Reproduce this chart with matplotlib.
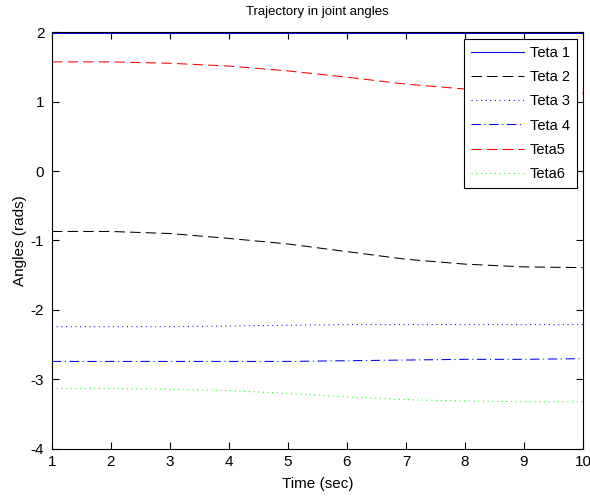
import matplotlib.pyplot as plt
import numpy as np

plt.rcParams['font.family'] = ['Liberation Sans', 'DejaVu Sans']
plt.rcParams['axes.unicode_minus'] = False

# joint angles sampled once per second
time = np.arange(1, 11)
teta1 = [1.98, 1.98, 1.98, 1.98, 1.98, 1.98, 1.98, 1.98, 1.98, 1.98]
teta2 = [-0.87, -0.87, -0.90, -0.97, -1.05, -1.16, -1.27, -1.34, -1.38, -1.39]
teta3 = [-2.24, -2.24, -2.24, -2.23, -2.22, -2.21, -2.21, -2.21, -2.21, -2.21]
teta4 = [-2.74, -2.74, -2.74, -2.74, -2.74, -2.73, -2.72, -2.71, -2.71, -2.70]
teta5 = [1.57, 1.57, 1.55, 1.51, 1.44, 1.35, 1.25, 1.18, 1.14, 1.12]
teta6 = [-3.13, -3.13, -3.14, -3.16, -3.20, -3.25, -3.29, -3.31, -3.32, -3.32]
labels = ['Teta 1', 'Teta 2', 'Teta 3', 'Teta 4', 'Teta5', 'Teta6']

fig = plt.figure(figsize=(5.9, 4.97), dpi=100)
ax = fig.add_axes([0.0881, 0.0966, 0.9, 0.839])

lw = 0.75
dash = (0, (10, 5))
dot = (0, (1, 3.5))
dashdot = (0, (9, 3.5, 1, 3.5))
ax.plot(time, teta1, color='#0000ff', linestyle='-', linewidth=lw, label=labels[0])
ax.plot(time, teta2, color='#000000', linestyle=dash, linewidth=lw, label=labels[1])
ax.plot(time, teta3, color='#0000ff', linestyle=dot, linewidth=lw, label=labels[2])
ax.plot(time, teta4, color='#0000ff', linestyle=dashdot, linewidth=lw, label=labels[3])
ax.plot(time, teta5, color='#ff0000', linestyle=dash, linewidth=lw, label=labels[4])
ax.plot(time, teta6, color='#00ff00', linestyle=dot, linewidth=lw, label=labels[5])

ax.set_xlim(1, 10)
ax.set_ylim(-4, 2)
ax.set_xticks(range(1, 11))
ax.set_yticks(range(-4, 3))
ax.tick_params(direction='in', length=5, top=True, right=True, labelsize=11, width=0.8)
ax.tick_params(axis='y', pad=5.5)
ax.tick_params(axis='x', pad=4)
for s in ax.spines.values():
    s.set_linewidth(0.8)

ax.set_title('Trajectory in joint angles', fontsize=9.5, pad=12)
ax.set_xlabel('Time (sec)', fontsize=11, labelpad=6)
ax.set_ylabel('Angles (rads)', fontsize=11, labelpad=3)

leg = ax.legend(loc='upper right', fontsize=10.5, fancybox=False, framealpha=1,
                edgecolor='black', bbox_to_anchor=(0.9887, 0.984), borderaxespad=0,
                handlelength=3.6, labelspacing=0.7, handletextpad=0.4,
                borderpad=0.5)
leg.get_frame().set_linewidth(0.8)

fig.savefig('out.png', dpi=100)
